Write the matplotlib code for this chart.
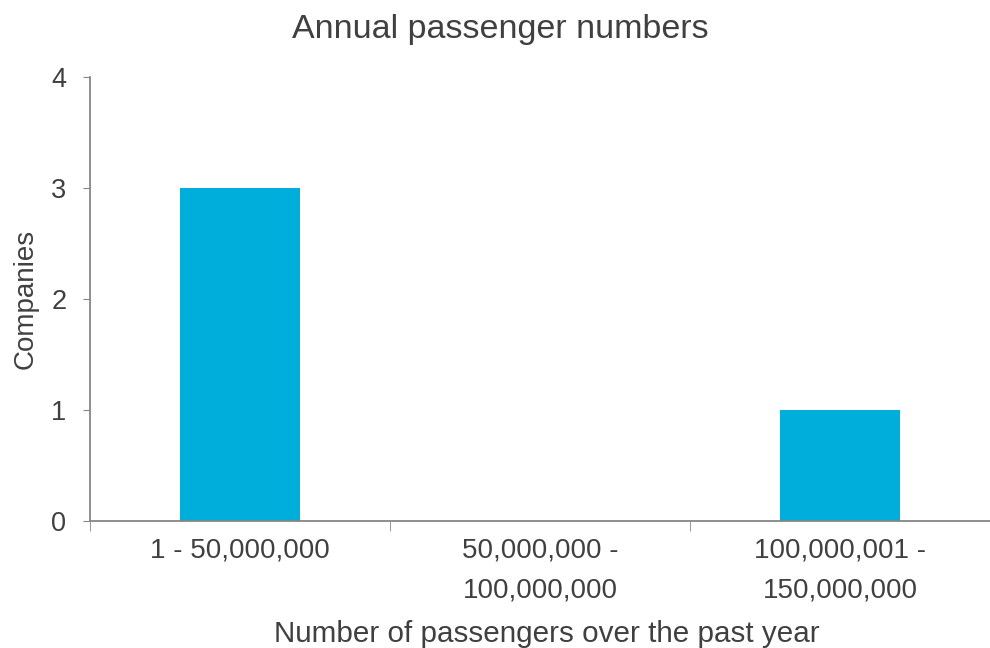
import matplotlib.pyplot as plt
import numpy as np

plt.rcParams['font.family'] = ['Liberation Sans', 'DejaVu Sans']

categories = ["1 - 50,000,000", "50,000,000 -\n100,000,000", "100,000,001 -\n150,000,000"]
companies = [3, 0, 1]

text_col = "#404040"
axis_col = "#868686"

fig = plt.figure(figsize=(9.9, 6.48), dpi=100)
ax = fig.add_axes([90/990, 127/648, 900/990, 444/648])

x = np.arange(len(categories))
ax.bar(x, companies, width=0.4, color="#00AEDB")

ax.set_xlim(-0.5, len(categories) - 0.5)
ax.set_ylim(0, 4)
ax.set_yticks([0, 1, 2, 3, 4])

# category labels centred, tick marks on the boundaries
ax.set_xticks(x)
ax.set_xticklabels(categories, fontsize=20, color=text_col, linespacing=1.7)
ax.tick_params(axis='x', which='major', length=0, pad=12)
ax.set_xticks(np.arange(-0.5, len(categories)), minor=True)
ax.tick_params(axis='x', which='minor', length=7, color=axis_col, direction='out')
ax.tick_params(axis='y', length=5, color=axis_col, labelsize=19.5, labelcolor=text_col, pad=12)

for s in ['top', 'right']:
    ax.spines[s].set_visible(False)
for s in ['left', 'bottom']:
    ax.spines[s].set_color(axis_col)
    ax.spines[s].set_linewidth(1.3)

ax.set_ylabel("Companies", fontsize=20, color=text_col, labelpad=9)
ax.set_xlabel("Number of passengers over the past year", fontsize=21.3, color=text_col, labelpad=12)
ax.xaxis.label.set_x(0.508)
fig.suptitle("Annual passenger numbers", fontsize=24.5, color=text_col, x=0.505, y=0.978)

fig.savefig("out.png", dpi=100)
